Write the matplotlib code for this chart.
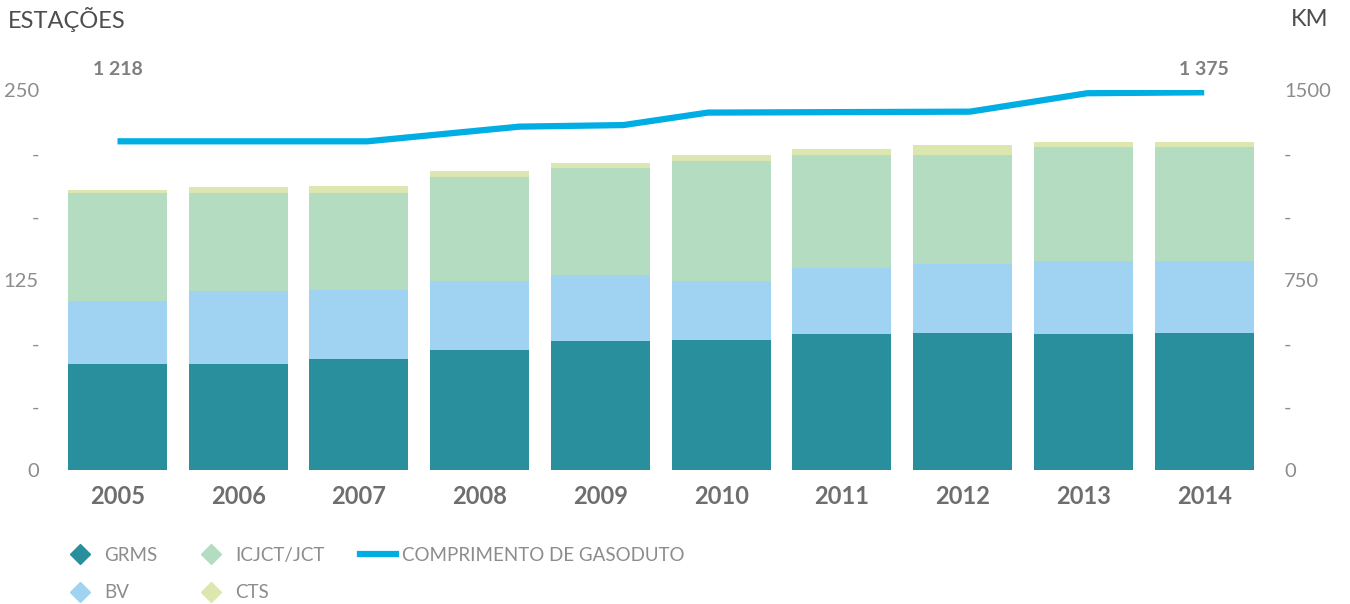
import numpy as np
import matplotlib.pyplot as plt
from matplotlib.lines import Line2D
from matplotlib.transforms import blended_transform_factory

plt.rcParams['font.family'] = ['Lato', 'DejaVu Sans']

years = ['2005', '2006', '2007', '2008', '2009', '2010', '2011', '2012', '2013', '2014']
grms = [70, 70, 73, 79, 85, 85.5, 89.5, 90, 89.5, 90]
bv = [41, 48, 45.5, 45.5, 43.5, 39, 43.5, 45.5, 48, 47.5]
icjct = [71, 64, 64, 68.5, 70, 79, 74, 71.5, 75, 75]
cts = [2, 4.5, 4.5, 4, 3.5, 3.5, 4, 6.5, 3.5, 3.5]

# pipeline length (km), vertices as drawn in the source (year index positions)
line_pos = [0, 2.07, 3.33, 4.19, 4.89, 7.06, 8.03, 9.0]
line_km = [1218, 1218, 1265, 1270, 1310, 1313, 1372, 1375]
line_labels = ['1 218', '1 375']

left_ticks = [0, 250 / 6, 500 / 6, 125, 1000 / 6, 1250 / 6, 250]
left_labels = ['0', '-', '-', '125', '-', '-', '250']
right_ticks = [0, 250, 500, 750, 1000, 1250, 1500]
right_labels = ['0', '-', '-', '750', '-', '-', '1500']

c_grms = '#2a8f9d'
c_bv = '#9fd3f1'
c_icjct = '#b4dcc1'
c_cts = '#dce7af'
c_line = '#00aee4'
c_tick = '#8c8c8c'

fig = plt.figure(figsize=(13.5, 6.04), dpi=100)
ax = fig.add_axes([50 / 1350, 1 - 470 / 604, 1220 / 1350, 380 / 604])

x = np.arange(len(years))
w = 0.82
b1 = np.array(grms)
b2 = b1 + np.array(bv)
b3 = b2 + np.array(icjct)
ax.bar(x, grms, w, color=c_grms)
ax.bar(x, bv, w, bottom=b1, color=c_bv)
ax.bar(x, icjct, w, bottom=b2, color=c_icjct)
ax.bar(x, cts, w, bottom=b3, color=c_cts)

ax.set_xlim(-0.559, 9.545)
ax.set_ylim(0, 250)
ax.set_yticks(left_ticks)
ax.set_yticklabels(left_labels)
ax.set_xticks(x)
ax.set_xticklabels(years, fontweight='bold', fontsize=17, color='#6e6e6e')
ax.tick_params(axis='y', length=0, pad=8, labelsize=14.5, labelcolor=c_tick)
ax.tick_params(axis='x', length=0, pad=11)
for s in ax.spines.values():
    s.set_visible(False)

ax2 = ax.twinx()
ax2.set_ylim(0, 1500)
ax2.set_yticks(right_ticks)
ax2.set_yticklabels(right_labels)
ax2.tick_params(axis='y', length=0, pad=10, labelsize=14.5, labelcolor=c_tick)
for s in ax2.spines.values():
    s.set_visible(False)

# the line uses its own (hidden) scale, as in the source graphic
ax3 = ax.twinx()
ax3.set_ylim(164.8, 1382.4)
ax3.axis('off')
ax3.plot(line_pos, line_km, color=c_line, lw=4.5, solid_capstyle='butt')

tr = blended_transform_factory(ax.transData, ax.transAxes)
ax.text(line_pos[0], 1.055, line_labels[0], transform=tr, ha='center', va='center',
        fontsize=14, fontweight='bold', color='#7f7f7f')
ax.text(line_pos[-1], 1.055, line_labels[1], transform=tr, ha='center', va='center',
        fontsize=14, fontweight='bold', color='#7f7f7f')

fig.text(8 / 1350, 1 - 20 / 604, 'ESTAÇÕES', fontsize=17, color='#4d4d4d', va='center')
fig.text(1328 / 1350, 1 - 20 / 604, 'KM', fontsize=17, color='#4d4d4d', va='center', ha='right')

def diamond(c):
    return Line2D([], [], marker='D', linestyle='none', markersize=10,
                  markerfacecolor=c, markeredgecolor=c)

handles = [diamond(c_grms), diamond(c_bv), diamond(c_icjct), diamond(c_cts),
           Line2D([], [], color=c_line, lw=4.5)]
labels = ['GRMS', 'BV', 'ICJCT/JCT', 'CTS', 'COMPRIMENTO DE GASODUTO']
leg = fig.legend(handles, labels, ncol=3, loc='upper left',
                 bbox_to_anchor=(62 / 1350, 1 - 547 / 604), frameon=False,
                 fontsize=13.5, handlelength=1.9, handletextpad=0.35,
                 columnspacing=1.9, labelspacing=1.07, borderpad=0, borderaxespad=0)
for t in leg.get_texts():
    t.set_color(c_tick)

fig.savefig('out.png', dpi=100)
